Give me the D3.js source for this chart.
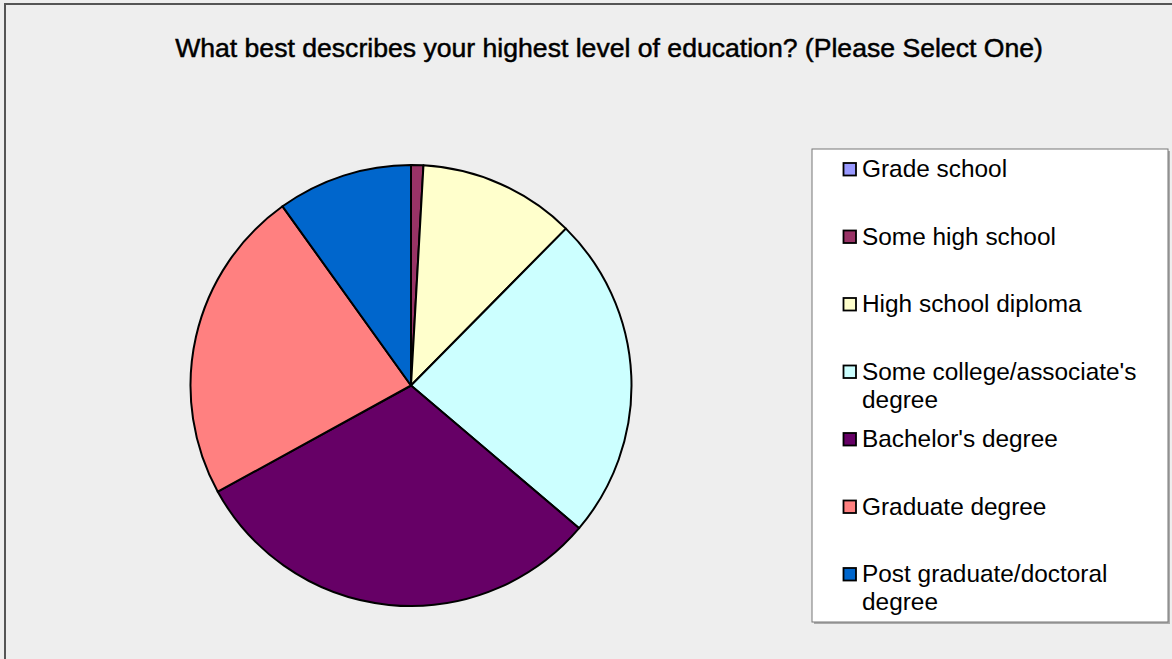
<!DOCTYPE html>
<html>
<head>
<meta charset="utf-8">
<script src="https://cdn.jsdelivr.net/npm/d3@7"></script>
<style>
  body { margin: 0; background: #eeeeee; }
  svg { display: block; }
  text { font-family: Arial, "Liberation Sans", sans-serif; fill: #000; }
</style>
</head>
<body>
<svg id="chart" width="1172" height="659"></svg>
<script>
// data (percent of respondents)
const categories = ["Grade school", "Some high school", "High school diploma",
  "Some college/associate's degree", "Bachelor's degree", "Graduate degree",
  "Post graduate/doctoral degree"];
const shares = [0, 0.9, 11.5, 23.8, 30.8, 23.1, 9.9];
const colors = ["#9999ff", "#993366", "#ffffcc", "#ccffff", "#660066", "#ff8080", "#0066cc"];

const title = "What best describes your highest level of education? (Please Select One)";

const W = 1172, H = 659;
const svg = d3.select("#chart");

// background + frame (only top/left edge visible in the original)
svg.append("rect").attr("width", W).attr("height", H).attr("fill", "#eeeeee");
svg.append("path").attr("d", "M5,660 V4 H1172")
   .attr("fill", "none").attr("stroke", "#555").attr("stroke-width", 2);

// title
svg.append("text")
   .attr("x", 609).attr("y", 57)
   .attr("text-anchor", "middle")
   .attr("font-size", 26.6)
   .attr("stroke", "#000").attr("stroke-width", 0.5)
   .text(title);

//---------- pie
const cx = 411, cy = 385.5, radius = 220.5;

const pie = d3.pie().sort(null).value(d => d.v);
const arc = d3.arc().innerRadius(0).outerRadius(radius);

const data = categories.map((c, i) => ({name: c, v: shares[i], col: colors[i]}));

const g = svg.append("g").attr("transform", "translate(" + cx + "," + cy + ")");
g.selectAll("path.slice")
  .data(pie(data).filter(d => d.data.v > 0))
  .enter().append("path")
  .attr("class", "slice")
  .attr("d", arc)
  .attr("fill", d => d.data.col)
  .attr("stroke", "#000")
  .attr("stroke-width", 2)
  .attr("stroke-linejoin", "round");

//---------- legend
const lx = 812, ly = 149, lw = 356, lh = 473;
svg.append("rect").attr("x", lx + 2).attr("y", ly + 2).attr("width", lw).attr("height", lh)
   .attr("fill", "#aaaaaa");
svg.append("rect").attr("x", lx).attr("y", ly).attr("width", lw).attr("height", lh)
   .attr("fill", "#fff").attr("stroke", "#777").attr("stroke-width", 1);

const step = 67.5, firstBase = 177, lineH = 28, maxW = 296;
const leg = svg.append("g");

data.forEach((d, i) => {
  const base = firstBase + i * step;
  leg.append("rect")
     .attr("x", 843.5).attr("y", base - 14)
     .attr("width", 12.5).attr("height", 12.5)
     .attr("fill", d.col).attr("stroke", "#000").attr("stroke-width", 1.8);

  const t = leg.append("text").attr("font-size", 24.4);
  // simple word wrap
  const words = d.name.split(" ");
  let line = [], ln = 0;
  let ts = t.append("tspan").attr("x", 862).attr("y", base);
  words.forEach(w => {
    line.push(w);
    ts.text(line.join(" "));
    if (ts.node().getComputedTextLength() > maxW && line.length > 1) {
      line.pop();
      ts.text(line.join(" "));
      line = [w];
      ln++;
      ts = t.append("tspan").attr("x", 862).attr("y", base + ln * lineH).text(w);
    }
  });
});
</script>
</body>
</html>
